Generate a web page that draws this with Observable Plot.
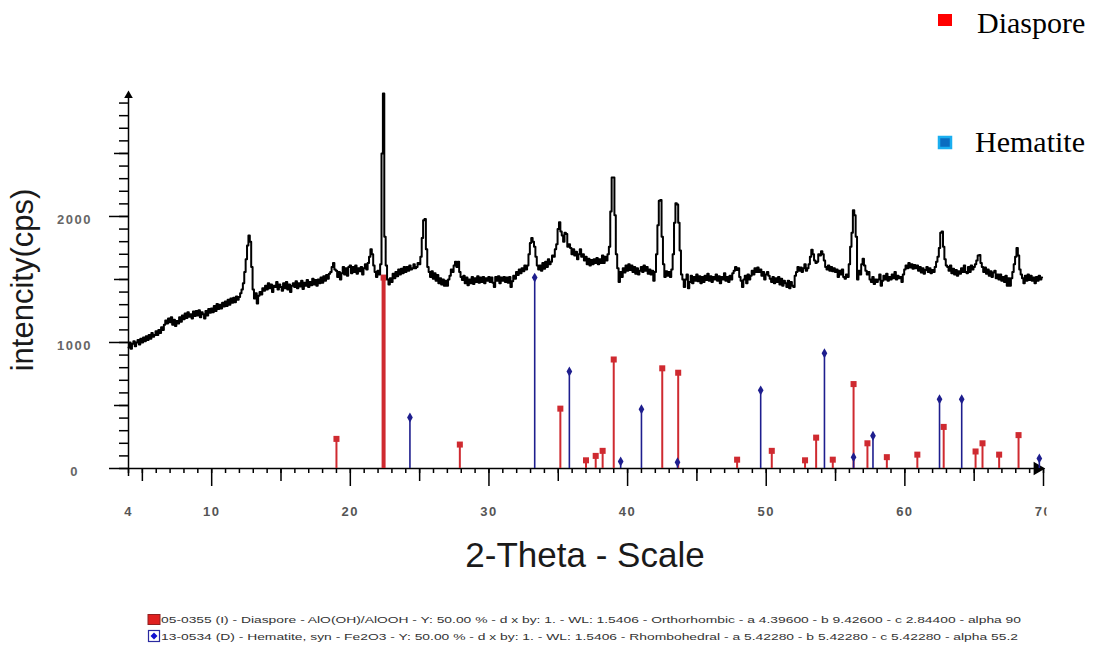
<!DOCTYPE html>
<html>
<head>
<meta charset="utf-8">
<script src="https://cdn.jsdelivr.net/npm/d3@7"></script>
<script src="https://cdn.jsdelivr.net/npm/@observablehq/plot@0.6"></script>
<style>
  html, body { margin: 0; padding: 0; background: #fff; }
  #chart { width: 1093px; height: 648px; position: relative; overflow: hidden; }
  svg { display: block; }
</style>
</head>
<body>
<div id="chart"></div>
<script>
// ---- measured XRD scan: start angle, step size, counts (one row per degree) ----
const scanStart = 4.0;
const scanStep = 0.1;
const counts = [
  960,1000,950,990,1010,970,1000,1020,985,1030,        // 4
  1000,1040,1010,1050,1020,1060,1030,1075,1045,1060,   // 5
  1090,1060,1100,1075,1120,1100,1140,1175,1150,1190,   // 6
  1160,1200,1140,1180,1130,1170,1150,1200,1165,1215,   // 7
  1185,1230,1195,1240,1205,1225,1190,1245,1210,1250,   // 8
  1215,1255,1200,1240,1225,1190,1250,1215,1265,1235,   // 9
  1270,1240,1290,1250,1305,1265,1300,1270,1315,1285,   // 10
  1325,1290,1340,1300,1350,1315,1355,1320,1365,1340,   // 11
  1360,1390,1420,1470,1560,1660,1770,1850,1800,1600,   // 12
  1420,1350,1390,1310,1370,1400,1380,1430,1410,1450,   // 13
  1420,1470,1430,1460,1400,1450,1440,1480,1420,1460,   // 14
  1440,1410,1470,1430,1480,1420,1460,1400,1450,1470,   // 15
  1440,1485,1430,1470,1445,1490,1425,1475,1450,1495,   // 16
  1440,1480,1455,1505,1460,1495,1450,1500,1470,1515,   // 17
  1475,1525,1490,1535,1505,1545,1560,1600,1630,1580,   // 18
  1570,1520,1560,1500,1550,1600,1540,1590,1530,1600,   // 19
  1610,1550,1600,1560,1610,1545,1590,1565,1600,1540,   // 20
  1590,1620,1580,1630,1680,1740,1700,1610,1560,1520,   // 21
  1570,1540,1620,2500,2975,1840,1610,1500,1460,1510,   // 22
  1480,1545,1510,1560,1525,1580,1540,1585,1550,1600,   // 23
  1560,1600,1570,1610,1580,1590,1620,1590,1600,1630,   // 24
  1620,1680,1830,1970,1980,1740,1600,1560,1520,1565,   // 25
  1505,1550,1490,1535,1470,1510,1460,1500,1450,1490,   // 26
  1450,1500,1530,1580,1560,1610,1640,1600,1640,1560,   // 27
  1520,1495,1530,1470,1515,1455,1500,1470,1520,1465,   // 28
  1510,1480,1525,1475,1515,1480,1520,1470,1510,1490,   // 29
  1520,1480,1515,1475,1440,1520,1490,1525,1470,1515,   // 30
  1490,1520,1480,1515,1475,1520,1440,1485,1530,1505,   // 31
  1560,1535,1580,1550,1590,1565,1610,1580,1610,1700,   // 32
  1790,1830,1800,1760,1680,1610,1580,1610,1570,1630,   // 33
  1585,1640,1600,1660,1620,1640,1690,1680,1740,1780,   // 34
  1900,1955,1880,1850,1800,1870,1860,1760,1780,1750,   // 35
  1700,1740,1690,1720,1660,1700,1740,1680,1700,1650,   // 36
  1680,1620,1665,1610,1655,1620,1660,1630,1670,1620,   // 37
  1660,1630,1690,1630,1680,1650,1700,1760,2040,2310,   // 38
  2310,2010,1700,1590,1480,1560,1520,1590,1555,1610,   // 39
  1570,1620,1575,1610,1560,1600,1545,1590,1540,1570,   // 40
  1600,1560,1610,1570,1600,1545,1580,1540,1570,1490,   // 41
  1560,1700,1930,2125,2130,1840,1620,1520,1565,1530,   // 42
  1560,1520,1580,1700,1950,2105,2095,1950,1730,1540,   // 43
  1500,1440,1500,1540,1430,1480,1530,1470,1520,1490,   // 44
  1540,1485,1525,1470,1520,1480,1530,1495,1545,1490,   // 45
  1525,1480,1520,1500,1540,1490,1525,1470,1520,1500,   // 46
  1550,1490,1520,1480,1530,1500,1550,1570,1600,1575,   // 47
  1590,1520,1490,1440,1500,1530,1470,1540,1500,1530,   // 48
  1570,1540,1590,1560,1595,1560,1580,1530,1560,1500,   // 49
  1540,1560,1530,1505,1480,1520,1470,1510,1480,1520,   // 50
  1460,1505,1450,1490,1470,1440,1490,1430,1480,1450,   // 51
  1440,1530,1560,1600,1570,1595,1560,1590,1620,1570,   // 52
  1590,1620,1680,1735,1700,1650,1630,1640,1700,1690,   // 53
  1725,1700,1650,1600,1580,1610,1570,1600,1565,1590,   // 54
  1560,1580,1520,1570,1540,1580,1520,1505,1540,1520,   // 55
  1620,1760,1870,2050,2010,1840,1500,1570,1540,1620,   // 56
  1665,1610,1570,1540,1560,1500,1480,1520,1465,1500,   // 57
  1480,1500,1540,1450,1490,1530,1500,1545,1490,1520,   // 58
  1500,1540,1510,1560,1500,1530,1510,1520,1480,1540,   // 59
  1580,1610,1590,1630,1595,1620,1585,1615,1590,1610,   // 60
  1570,1600,1555,1590,1545,1575,1600,1560,1590,1550,   // 61
  1575,1560,1600,1640,1680,1750,1870,1880,1760,1660,   // 62
  1610,1600,1570,1610,1550,1585,1540,1575,1530,1565,   // 63
  1545,1590,1560,1610,1560,1550,1600,1560,1610,1580,   // 64
  1600,1620,1650,1690,1695,1630,1600,1560,1595,1545,   // 65
  1580,1530,1565,1520,1555,1570,1510,1540,1500,1540,   // 66
  1490,1520,1480,1530,1450,1510,1450,1510,1560,1620,   // 67
  1680,1750,1690,1580,1540,1510,1470,1530,1490,1540,   // 68
  1495,1530,1490,1515,1470,1520,1490,1530,1500,1515    // 69
];

// ---- reference patterns: stick positions (2-theta) and intensities ----
const diasporeTheta = [19.0, 22.4, 27.9, 35.15, 37.0, 37.7, 38.2, 39.0, 42.5, 43.65, 47.9, 50.4, 52.8, 53.6, 54.8, 56.3, 57.3, 58.7, 60.9, 62.8, 65.1, 65.6, 66.8, 68.2];
const diasporeI     = [ 235, 1515,  190,  475,   65,  100,  140,  865,  795,   760,   70,  140,   65,  245,   70,  670,  200,   90,  110,  330,  135,  200,  110,  265];
const hematiteTheta = [24.3, 33.3, 35.8, 39.5, 41.0, 43.6, 49.6, 54.2, 56.3, 57.7, 62.5, 64.1, 69.7];
const hematiteI     = [ 405, 1515,  770,   55,  470,   50,  620,  915,   90,  260,  550,  550,   80];

// ---- axes and labels ----
const xMinorTicks = d3.range(4, 71, 1);
const xMidTicks = [5, 15, 25, 35, 45, 55, 65];
const xMajorTicks = [10, 20, 30, 40, 50, 60, 70];
const xTickLabels = [4, 10, 20, 30, 40, 50, 60, 70];
const yMinorTicks = d3.range(0, 3000, 100);
const yMidTicks = [500, 1500, 2500];
const yMajorTicks = [0, 1000, 2000];
const yTickLabels = [0, 1000, 2000];

const xTitle = "2-Theta - Scale";
const yTitle = "intencity(cps)";
const phaseNames = ["Diaspore", "Hematite"];
const cardLines = [
  "05-0355 (I) - Diaspore - AlO(OH)/AlOOH - Y: 50.00 % - d x by: 1. - WL: 1.5406 - Orthorhombic - a 4.39600 - b 9.42600 - c 2.84400 - alpha 90",
  "13-0534 (D) - Hematite, syn - Fe2O3 - Y: 50.00 % - d x by: 1. - WL: 1.5406 - Rhombohedral - a 5.42280 - b 5.42280 - c 5.42280 - alpha 55.2"
];

const scanData = counts.map((c, i) => ({t: +(scanStart + i * scanStep).toFixed(2), c}));
const dia = diasporeTheta.map((t, i) => ({t, i: diasporeI[i]}));
const hem = hematiteTheta.map((t, i) => ({t, i: hematiteI[i]}));

const RED = "#cf2a30";
const BLUE = "#1e1e8e";
const tickStyle = {stroke: "#000", strokeWidth: 1.5, tickFormat: () => "", label: null};

const plot = Plot.plot({
  width: 1093,
  height: 648,
  marginLeft: 128,
  marginRight: 50,
  marginTop: 95,
  marginBottom: 180,
  style: {fontFamily: "'Liberation Sans', Arial, sans-serif", background: "#fff"},
  x: {domain: [4, 70], label: null},
  y: {domain: [0, 2960], label: null},
  marks: [
    // axis ticks
    Plot.axisX(xMinorTicks, {...tickStyle, tickSize: 5}),
    Plot.axisX(xMidTicks, {...tickStyle, tickSize: 13}),
    Plot.axisX(xMajorTicks, {...tickStyle, tickSize: 18}),
    Plot.axisX([4], {...tickStyle, tickSize: 8}),
    Plot.axisY(yMinorTicks, {...tickStyle, tickSize: 9}),
    Plot.axisY(yMidTicks, {...tickStyle, tickSize: 14}),
    Plot.axisY(yMajorTicks, {...tickStyle, tickSize: 19}),
    // axis lines
    Plot.ruleY([0], {stroke: "#000", strokeWidth: 1.5}),
    Plot.ruleX([4], {stroke: "#000", strokeWidth: 1.5}),
    Plot.dot([0], {frameAnchor: "top-left", symbol: "triangle", r: 3.2, fill: "#000", stroke: null}),
    Plot.dot([70], {x: d => d, y: 0, symbol: "triangle", rotate: 90, r: 5, dx: -6, fill: "#000", stroke: null}),
    // tick labels
    Plot.text(xTickLabels, {x: d => d, y: 0, dy: 43, text: d => String(d), fontSize: 13, fill: "#555", fontWeight: "bold"}),
    Plot.text(yTickLabels, {x: 4, y: d => d, dx: -54, dy: 3, text: d => String(d), fontSize: 13, fill: "#666", fontWeight: "bold"}),
    // reference sticks
    Plot.ruleX(dia, {x: "t", y1: 0, y2: "i", stroke: RED, strokeWidth: d => d.i > 1000 ? 4 : 2}),
    Plot.dot(dia, {x: "t", y: "i", symbol: "square", r: 3.4, fill: RED, stroke: null}),
    Plot.ruleX(hem, {x: "t", y1: 0, y2: "i", stroke: BLUE, strokeWidth: 1.6}),
    Plot.dot(hem, {x: "t", y: "i", symbol: "diamond", r: 3, fill: BLUE, stroke: null}),
    // measured pattern
    Plot.line(scanData, {x: "t", y: "c", curve: "step", stroke: "#000", strokeWidth: 2}),
  ]
});

const svg = d3.select(plot);
const numTexts = svg.selectAll("text").filter(function() { return /^\d+$/.test(this.textContent); });
numTexts.attr("letter-spacing", "1.5");
// clip the last x label at the right edge of the original export
svg.append("defs").append("clipPath").attr("id", "rclip")
  .append("rect").attr("x", 0).attr("y", 0).attr("width", 1046).attr("height", 648);
numTexts.filter(function() { return this.textContent === "70"; }).each(function() {
  d3.select(this.parentNode).attr("clip-path", "url(#rclip)");
});

// axis titles
svg.append("text").text(yTitle)
  .attr("transform", "translate(33,280) rotate(-90)")
  .attr("text-anchor", "middle")
  .attr("font-family", "'Liberation Sans', Arial, sans-serif")
  .attr("font-size", 31).attr("fill", "#1a1a1a");
svg.append("text").text(xTitle)
  .attr("x", 585).attr("y", 567)
  .attr("text-anchor", "middle")
  .attr("font-family", "'Liberation Sans', Arial, sans-serif")
  .attr("font-size", 35).attr("fill", "#1a1a1a");

// top-right phase legend
const lg = svg.append("g").attr("font-family", "'Liberation Serif', 'Times New Roman', serif")
  .attr("font-size", 30).attr("fill", "#000").attr("text-anchor", "start");
lg.append("rect").attr("x", 938).attr("y", 14).attr("width", 14).attr("height", 12).attr("fill", "#ff0000");
lg.append("text").attr("x", 977).attr("y", 33).attr("text-anchor", "start").text(phaseNames[0]);
lg.append("rect").attr("x", 939).attr("y", 137).attr("width", 12).attr("height", 11).attr("fill", "#0a6cc0").attr("stroke", "#1aaef0").attr("stroke-width", 2.5);
lg.append("text").attr("x", 975).attr("y", 152).attr("text-anchor", "start").text(phaseNames[1]);

// bottom card legend
const cg = svg.append("g").attr("font-family", "'Liberation Sans', Arial, sans-serif")
  .attr("font-size", 9).attr("fill", "#333").attr("text-anchor", "start");
cg.append("rect").attr("x", 148).attr("y", 614.5).attr("width", 12).attr("height", 10).attr("fill", "#e02020").attr("stroke", "#902020").attr("stroke-width", 1);
cg.append("text").attr("x", 161).attr("y", 623).attr("text-anchor", "start").attr("textLength", 860).attr("lengthAdjust", "spacingAndGlyphs").text(cardLines[0]);
cg.append("rect").attr("x", 148.5).attr("y", 630.5).attr("width", 11).attr("height", 11).attr("fill", "#fff").attr("stroke", "#2a2aa0").attr("stroke-width", 1.2);
cg.append("path").attr("d", "M154,632.5 L157.5,636 L154,639.5 L150.5,636 Z").attr("fill", "#1010d0");
cg.append("text").attr("x", 161).attr("y", 639.5).attr("text-anchor", "start").attr("textLength", 857).attr("lengthAdjust", "spacingAndGlyphs").text(cardLines[1]);

document.getElementById("chart").appendChild(plot);
</script>
</body>
</html>
